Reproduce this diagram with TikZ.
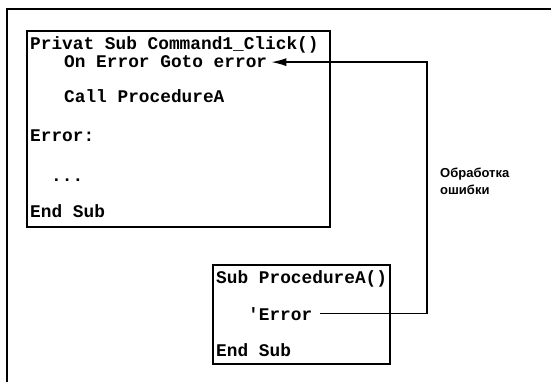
\documentclass[tikz,border=0pt]{standalone}
\usepackage{fontspec}
\newfontfamily\codefont{Liberation Mono}
\newfontfamily\labelfont{Liberation Sans}
\usetikzlibrary{arrows.meta}
\tikzset{
  code/.style={anchor=base west,inner sep=0pt,
    font=\codefont\bfseries\fontsize{17.8}{18}\selectfont},
  frame/.style={line width=1.4pt},
  note/.style={anchor=west,inner sep=0pt,align=left,
    font=\labelfont\bfseries\fontsize{13}{17}\selectfont}
}
\begin{document}
\begin{tikzpicture}[x=1pt,y=-1pt,>={Latex[length=15pt,width=8pt]}]
\useasboundingbox (0,0) rectangle (551,382);

% outer frame, only top and left edges visible
\draw[line width=1.2pt] (551,9)--(7,9)--(7,382);

% main procedure
\draw[frame] (27,31) rectangle (330,227);
\node[code] (head) at (30,50) {Privat Sub Command1\_Click()};
\node[code] (goto) at (64,68) {On Error Goto error};
\node[code] (call) at (64,103) {Call ProcedureA};
\node[code] (lbl) at (30,142) {Error:};
\node[code] (dots) at (51,182) {...};
\node[code] (endm) at (30,217) {End Sub};

% called procedure
\draw[frame] (213,265) rectangle (390,364);
\node[code] (phead) at (216,283) {Sub ProcedureA()};
\node[code] (perr) at (248,320) {'Error};
\node[code] (pend) at (216,356) {End Sub};

% jump back to the handler
\coordinate (bend) at (427,0);
\draw[->,line width=1.4pt] ([xshift=8pt]perr.east) -| (bend |- goto.east)
    -- ([xshift=4pt]goto.east);

\node[note] (handler) at (440,181) {Обработка\\ошибки};
\end{tikzpicture}
\end{document}
